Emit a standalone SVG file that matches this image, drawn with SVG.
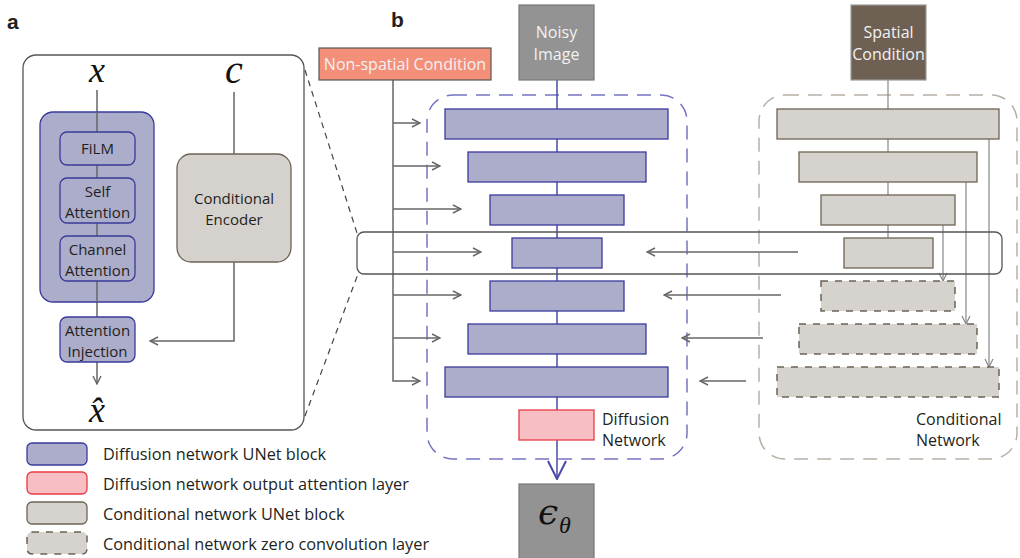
<svg xmlns="http://www.w3.org/2000/svg" width="1020" height="558" viewBox="0 0 1020 558">
  <style>
    .lbl { font-family: "Open Sans", "Noto Sans", sans-serif; font-size: 15px; fill: #231f20; }
    .net { font-size: 16px; }
    .leg { font-size: 16.3px; }
    .wlbl { font-family: "Open Sans", "Noto Sans", sans-serif; font-size: 16px; fill: #f2f2f2; }
    .panel { font-family: "Liberation Sans", Arial, sans-serif; font-size: 21px; font-weight: bold; fill: #231f20; }
    .math { font-family: "Liberation Serif", "DejaVu Serif", serif; font-style: italic; fill: #111; }
    .eps { font-family: "DejaVu Serif", serif; }
    .dblk { fill: #acaccb; stroke: #3a3a9c; stroke-width: 1.3; }
    .rblk { fill: #f7bec4; stroke: #e83c46; stroke-width: 1.3; }
    .cblk { fill: #d6d3cf; stroke: #6e6355; stroke-width: 1.3; }
    .zblk { fill: #d6d3cf; stroke: #6e6355; stroke-width: 1.5; stroke-dasharray: 7 7; }
    .gline { stroke: #666; stroke-width: 1.5; fill: none; }
    .thin { stroke: #888; stroke-width: 1.2; fill: none; }
    .bline { stroke: #4a4aa8; stroke-width: 1.5; fill: none; }
  </style>
  <defs>
    <marker id="arr" viewBox="0 0 10 10" refX="9" refY="5" markerWidth="10" markerHeight="10" markerUnits="userSpaceOnUse" orient="auto">
      <path d="M1,1 L9,5 L1,9" fill="none" stroke="#666" stroke-width="1.4"/>
    </marker>
    <marker id="arrThin" viewBox="0 0 10 10" refX="9" refY="5" markerWidth="10" markerHeight="10" markerUnits="userSpaceOnUse" orient="auto">
      <path d="M1,1 L9,5 L1,9" fill="none" stroke="#888" stroke-width="1.2"/>
    </marker>
    <marker id="arrBig" viewBox="0 0 20 20" refX="19" refY="10" markerWidth="20" markerHeight="22" markerUnits="userSpaceOnUse" orient="auto">
      <path d="M1,1 L19,10 L1,19" fill="none" stroke="#4a4aa8" stroke-width="2"/>
    </marker>
  </defs>

  <!-- panel letters -->
  <text class="panel" x="7" y="29">a</text>
  <text class="panel" x="391" y="27">b</text>

  <!-- ===== Panel a: block detail ===== -->
  <rect id="panel-a-frame" x="23" y="55" width="281" height="375" rx="13" fill="#fff" stroke="#555" stroke-width="1.3"/>

  <!-- zoom guide lines -->
  <g id="zoom-guides" stroke="#444" stroke-width="1.2" stroke-dasharray="6 5" fill="none">
    <line x1="305" y1="70" x2="357" y2="233"/>
    <line x1="305" y1="416" x2="358" y2="274"/>
  </g>

  <g id="a-connectors">
    <line class="gline" x1="97" y1="90" x2="97" y2="317"/>
    <line class="gline" x1="97" y1="362" x2="97" y2="384" marker-end="url(#arr)"/>
    <line class="gline" x1="234" y1="92" x2="234" y2="154"/>
    <polyline class="gline" points="234,262 234,341 150,341" marker-end="url(#arr)"/>
  </g>

  <g id="a-input-x"><text class="math" x="97" y="82" font-size="36" text-anchor="middle">x</text></g>
  <g id="a-input-c"><text class="math" x="234" y="83" font-size="40" text-anchor="middle">c</text></g>

  <g id="a-unet-block">
    <rect class="dblk" x="40" y="112" width="114" height="190" rx="13"/>
    <line class="gline" x1="97" y1="112" x2="97" y2="302"/>
  </g>
  <g id="a-film">
    <rect class="dblk" x="60" y="132" width="75" height="33" rx="7"/>
    <text class="lbl" x="97.5" y="154" text-anchor="middle">FiLM</text>
  </g>
  <g id="a-self-attention">
    <rect class="dblk" x="60" y="178" width="75" height="45" rx="7"/>
    <text class="lbl" x="97.5" y="197" text-anchor="middle">Self</text>
    <text class="lbl" x="97.5" y="218" text-anchor="middle">Attention</text>
  </g>
  <g id="a-channel-attention">
    <rect class="dblk" x="60" y="236" width="75" height="45" rx="7"/>
    <text class="lbl" x="97.5" y="255" text-anchor="middle">Channel</text>
    <text class="lbl" x="97.5" y="276" text-anchor="middle">Attention</text>
  </g>
  <g id="a-attention-injection">
    <rect class="dblk" x="60" y="317" width="75" height="45" rx="7"/>
    <text class="lbl" x="97.5" y="336" text-anchor="middle">Attention</text>
    <text class="lbl" x="97.5" y="357" text-anchor="middle">Injection</text>
  </g>
  <g id="a-conditional-encoder">
    <rect x="177" y="154" width="114" height="108" rx="14" fill="#d5d2cd" stroke="#6e6355" stroke-width="1.3"/>
    <text class="lbl" x="234" y="204" text-anchor="middle">Conditional</text>
    <text class="lbl" x="234" y="225" text-anchor="middle">Encoder</text>
  </g>
  <g id="a-output-xhat">
    <text class="math" x="97" y="422" font-size="36" text-anchor="middle">x̂</text>
  </g>

  <!-- ===== Panel b: network overview ===== -->
  <g id="diffusion-network-frame">
    <rect x="427" y="95" width="260" height="364" rx="26" fill="none" stroke="#7474c2" stroke-width="1.5" stroke-dasharray="14 9"/>
    <text class="lbl net" x="602" y="425">Diffusion</text>
    <text class="lbl net" x="602" y="446">Network</text>
  </g>
  <g id="conditional-network-frame">
    <rect x="759" y="95" width="258" height="364" rx="26" fill="none" stroke="#b8b0a6" stroke-width="1.5" stroke-dasharray="14 9"/>
    <text class="lbl net" x="916" y="425">Conditional</text>
    <text class="lbl net" x="916" y="446">Network</text>
  </g>

  <g id="connectors">
    <!-- non-spatial condition feed -->
    <polyline class="gline" points="393,80 393,381 420,381" marker-end="url(#arr)"/>
    <line class="gline" x1="393" y1="123" x2="420" y2="123" marker-end="url(#arr)"/>
    <line class="gline" x1="393" y1="166" x2="440" y2="166" marker-end="url(#arr)"/>
    <line class="gline" x1="393" y1="209" x2="461" y2="209" marker-end="url(#arr)"/>
    <line class="gline" x1="393" y1="252" x2="481" y2="252" marker-end="url(#arr)"/>
    <line class="gline" x1="393" y1="295" x2="461" y2="295" marker-end="url(#arr)"/>
    <line class="gline" x1="393" y1="338" x2="440" y2="338" marker-end="url(#arr)"/>
    <!-- diffusion backbone -->
    <line class="bline" x1="557" y1="80" x2="557" y2="410"/>
    <line class="bline" x1="557" y1="440" x2="557" y2="479" marker-end="url(#arrBig)"/>
    <!-- conditional backbone -->
    <line class="thin" x1="888" y1="80" x2="888" y2="238"/>
    <!-- skip links inside conditional network -->
    <line class="thin" x1="943" y1="225" x2="943" y2="281" marker-end="url(#arrThin)"/>
    <line class="thin" x1="966" y1="182" x2="966" y2="324" marker-end="url(#arrThin)"/>
    <line class="thin" x1="989" y1="139" x2="989" y2="367" marker-end="url(#arrThin)"/>
    <!-- control signals into diffusion network -->
    <line class="gline" x1="798" y1="252" x2="647" y2="252" marker-end="url(#arr)"/>
    <line class="gline" x1="781" y1="295" x2="664" y2="295" marker-end="url(#arr)"/>
    <line class="gline" x1="763" y1="338" x2="682" y2="338" marker-end="url(#arr)"/>
    <line class="gline" x1="746" y1="381" x2="700" y2="381" marker-end="url(#arr)"/>
  </g>

  <g id="non-spatial-condition">
    <rect x="319" y="48" width="172" height="32" fill="#f4907a" stroke="#555" stroke-width="1.2"/>
    <text class="wlbl" x="405" y="69.5" text-anchor="middle">Non-spatial Condition</text>
  </g>
  <g id="noisy-image">
    <rect x="519" y="5" width="75" height="75" fill="#939393" stroke="#777" stroke-width="1.2"/>
    <text class="wlbl" x="556.5" y="38" text-anchor="middle">Noisy</text>
    <text class="wlbl" x="556.5" y="60" text-anchor="middle">Image</text>
  </g>
  <g id="spatial-condition">
    <rect x="851" y="5" width="75" height="75" fill="#6e6153" stroke="#999" stroke-width="1.2"/>
    <text class="wlbl" x="888.5" y="38" text-anchor="middle">Spatial</text>
    <text class="wlbl" x="888.5" y="60" text-anchor="middle">Condition</text>
  </g>

  <!-- diffusion UNet blocks -->
  <g id="d-block-1"><rect class="dblk" x="445" y="109" width="223" height="30"/></g>
  <g id="d-block-2"><rect class="dblk" x="468" y="152" width="178" height="30"/></g>
  <g id="d-block-3"><rect class="dblk" x="490" y="195" width="134" height="30"/></g>
  <g id="d-block-4"><rect class="dblk" x="512" y="238" width="90" height="30"/></g>
  <g id="d-block-5"><rect class="dblk" x="490" y="281" width="134" height="30"/></g>
  <g id="d-block-6"><rect class="dblk" x="468" y="324" width="178" height="30"/></g>
  <g id="d-block-7"><rect class="dblk" x="445" y="367" width="223" height="30"/></g>
  <g id="d-output-attention"><rect class="rblk" x="519" y="410" width="75" height="30"/></g>

  <!-- conditional UNet blocks -->
  <g id="c-block-1"><rect class="cblk" x="777" y="109" width="222" height="30"/></g>
  <g id="c-block-2"><rect class="cblk" x="799" y="152" width="178" height="30"/></g>
  <g id="c-block-3"><rect class="cblk" x="821" y="195" width="134" height="30"/></g>
  <g id="c-block-4"><rect class="cblk" x="844" y="238" width="89" height="30"/></g>
  <!-- zero convolution layers -->
  <g id="z-block-1"><rect class="zblk" x="821" y="281" width="134" height="30"/></g>
  <g id="z-block-2"><rect class="zblk" x="799" y="324" width="178" height="30"/></g>
  <g id="z-block-3"><rect class="zblk" x="777" y="367" width="222" height="30"/></g>

  <!-- highlighted middle row -->
  <rect id="highlight-row" x="357" y="232" width="645" height="42" rx="7" fill="none" stroke="#555" stroke-width="1.3"/>

  <g id="output-eps">
    <rect x="519" y="484" width="75" height="80" fill="#939393" stroke="#777" stroke-width="1.2"/>
    <text class="math eps" x="538" y="524" font-size="36">ϵ</text>
    <text class="math" x="559" y="533" font-size="24">θ</text>
  </g>

  <!-- legend -->
  <g id="legend">
    <rect class="dblk" x="27" y="443" width="60" height="22" rx="5"/>
    <text class="lbl leg" x="103" y="459.5">Diffusion network UNet block</text>
    <rect class="rblk" x="27" y="472" width="60" height="22" rx="5"/>
    <text class="lbl leg" x="103" y="489.5">Diffusion network output attention layer</text>
    <rect class="cblk" x="27" y="502" width="60" height="22" rx="5"/>
    <text class="lbl leg" x="103" y="519.5">Conditional network UNet block</text>
    <rect class="zblk" x="27" y="532" width="60" height="22" rx="5"/>
    <text class="lbl leg" x="103" y="549.5">Conditional network zero convolution layer</text>
  </g>
</svg>
